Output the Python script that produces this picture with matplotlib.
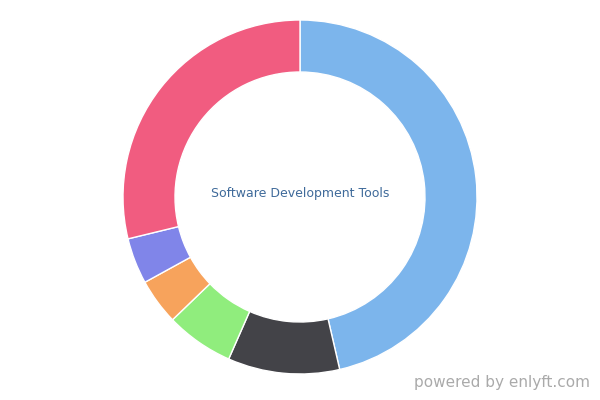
import matplotlib
matplotlib.use("Agg")
import matplotlib.pyplot as plt

labels = ["Blue", "Dark", "Green", "Orange", "Purple", "Pink"]
values = [46.4, 10.2, 6.2, 4.2, 4.2, 28.8]
colors = ["#7cb5ec", "#434348", "#90ed7d", "#f7a35c", "#8085e9", "#f15c80"]

fig = plt.figure(figsize=(6, 4), dpi=100)
ax = fig.add_axes([0, 0, 1, 1])
ax.set_xlim(0, 600); ax.set_ylim(400, 0)
ax.axis("off")
ax2 = fig.add_axes([(300-177)/600, 1-(197+177)/400, 354/600, 354/400])
ax2.pie(values, colors=colors, startangle=90, counterclock=False,
        radius=1, wedgeprops=dict(width=52/177, edgecolor="white", linewidth=1))
ax2.set_aspect("equal")
ax2.set_xlim(-1, 1); ax2.set_ylim(-1, 1)
ax.text(300, 193, "Software Development Tools", ha="center", va="center",
        fontsize=9, color="#3f6a9a")
ax.text(590, 390, "powered by enlyft.com", ha="right", va="bottom",
        fontsize=11, color="#aaaaaa")
fig.savefig("out.png", dpi=100)
